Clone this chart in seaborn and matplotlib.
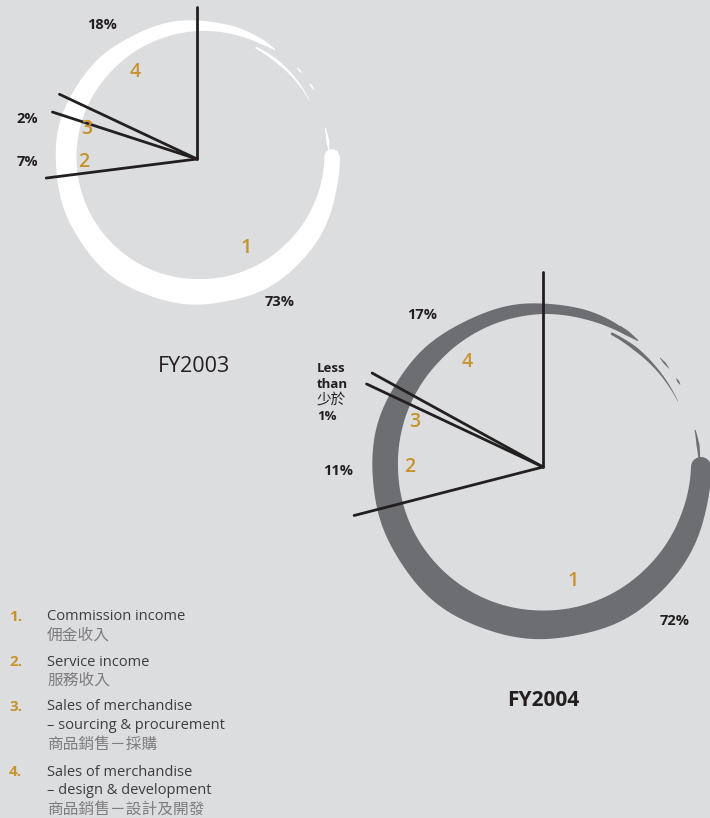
import numpy as np
import pandas as pd
import seaborn as sns
import matplotlib.pyplot as plt
from matplotlib.patches import Polygon, Circle

# Revenue mix by segment (percent), segments 1-4
segments = ['1', '2', '3', '4']
share_fy2003 = [73, 7, 2, 18]
share_fy2004 = [72, 11, 1, 17]
pct_fy2003 = ['73%', '7%', '2%', '18%']
pct_fy2004 = ['72%', '11%', 'Less\nthan\n少於\n1%', '17%']
years = ['FY2003', 'FY2004']

legend_en = ['Commission income', 'Service income',
             'Sales of merchandise\n– sourcing & procurement',
             'Sales of merchandise\n– design & development']
legend_zh = ['佣金收入', '服務收入', '商品銷售－採購', '商品銷售－設計及開發']

BG = '#dcdddf'
GOLD = '#c8922c'
INK = '#231f20'
LAT = ['Open Sans', 'Noto Sans CJK TC', 'DejaVu Sans']

sns.set_theme(style='white', rc={'axes.facecolor': BG, 'figure.facecolor': BG})
plt.rcParams['font.family'] = LAT

fig = plt.figure(figsize=(7.1, 8.18), dpi=100)
ax = fig.add_axes([0, 0, 1, 1])


def brush(ax, cx, cy, r, prof_a, prof_w, color, cap=True):
    # clockwise brush stroke with varying width
    a = np.linspace(prof_a[0], prof_a[-1], 600)
    w = np.interp(-a, -np.array(prof_a), prof_w)
    rr = np.radians(a)
    wob = 0.6 * np.sin(rr * 5) + 0.4 * np.sin(rr * 11 + 1)
    ro = r + w / 2 + wob * (w > 6)
    ri = r - w / 2
    outer = np.c_[cx + ro * np.cos(rr), cy - ro * np.sin(rr)]
    inner = np.c_[cx + ri * np.cos(rr), cy - ri * np.sin(rr)][::-1]
    ax.add_patch(Polygon(np.r_[outer, inner], closed=True, fc=color, ec='none', zorder=1))
    if cap:
        a0 = rr[0]
        ax.add_patch(Circle((cx + r * np.cos(a0), cy - r * np.sin(a0)), w[0] / 2,
                            fc=color, ec='none', zorder=1))


def spokes(ax, cx, cy, length, shares):
    # boundaries counterclockwise from 12 o'clock: seg 4, 3, 2 then seg 1
    s1, s2, s3, s4 = shares
    cum = np.cumsum([0, s4, s3, s2])
    ang = np.radians(90 + 3.6 * cum)
    rows = []
    for i, t in enumerate(ang):
        rows.append((i, cx, cy))
        rows.append((i, cx + length * np.cos(t), cy - length * np.sin(t)))
    df = pd.DataFrame(rows, columns=['spoke', 'x', 'y'])
    sns.lineplot(data=df, x='x', y='y', units='spoke', estimator=None, sort=False,
                 color=INK, lw=2.0, ax=ax, zorder=3)


# ---- FY2003 (white ring)
c3 = (199, 159)
r3 = 133
brush(ax, *c3, r3,
      [1, -20, -45, -90, -135, -180, -225, -250, -270, -288, -298, -305],
      [15, 19, 23, 26, 24, 21, 18, 14, 10, 7, 5, 1], 'white')
brush(ax, *c3, r3 - 8, [63, 52, 40, 28], [2, 3, 2, 0.4], 'white', cap=False)
brush(ax, *c3, r3 + 1, [43, 41.5, 40], [0.5, 2, 0.5], 'white', cap=False)
brush(ax, *c3, r3 + 1, [34.5, 33, 31], [0.5, 2, 0.5], 'white', cap=False)
brush(ax, *c3, r3 - 3, [14, 8, 3], [0.8, 3, 0.8], 'white', cap=False)
spokes(ax, 197, 159, 152, share_fy2003)

# ---- FY2004 (grey ring)
c4 = (543, 467)
r4 = 158
brush(ax, *c4, r4,
      [0, -20, -45, -90, -135, -180, -225, -250, -270, -285, -295, -302, -307],
      [20, 24, 27, 29, 28, 26, 20, 14, 10, 9, 7, 5, 1], '#6d6e71')
brush(ax, *c4, r4 - 8, [63, 52, 40, 26], [2.5, 4, 2, 0.4], '#6d6e71', cap=False)
brush(ax, *c4, r4 + 2, [43, 40.5, 38], [0.5, 2, 0.5], '#6d6e71', cap=False)
brush(ax, *c4, r4 + 2, [33.6, 32.3, 31], [0.5, 2, 0.5], '#6d6e71', cap=False)
brush(ax, *c4, r4 - 1.5, [13.7, 8, 0.7], [1, 3, 1], '#6d6e71', cap=False)
spokes(ax, *c4, 195, share_fy2004)

# ---- segment numbers (gold)
num_pos = {'FY2003': [(246, 248), (84, 162), (87, 129), (135, 72)],
           'FY2004': [(573, 581), (410, 467), (415, 422), (467, 362)]}
for yr in years:
    for s, (x, y) in zip(segments, num_pos[yr]):
        ax.text(x, y, s, color=GOLD, fontsize=14, fontweight='semibold',
                ha='center', va='center', zorder=4)

# ---- percentages
pos3 = [(280, 302), (27, 162), (27, 119), (102, 25)]
for t, (x, y) in zip(pct_fy2003, pos3):
    ax.text(x, y, t, color=INK, fontsize=10.5, fontweight='bold', ha='center', va='center')
pos4 = [(675, 621), (338, 471), None, (422, 315)]
for t, p in zip(pct_fy2004, pos4):
    if p is not None:
        ax.text(p[0], p[1], t, color=INK, fontsize=10.5, fontweight='bold',
                ha='center', va='center')
less = pct_fy2004[2].split('\n')
for i, t in enumerate(less):
    ax.text(317, 368 + 16 * i, t, color=INK, fontsize=10.5 if i == 2 else 9.5,
            fontweight='normal' if i == 2 else 'bold', ha='left', va='center',
            family=['Noto Sans CJK TC'] if i == 2 else LAT)

# ---- titles
ax.text(194, 366, years[0], color=INK, fontsize=15.5, ha='center', va='center')
ax.text(543, 700, years[1], color=INK, fontsize=15, fontweight='bold', ha='center', va='center')

# ---- legend
leg_y = [617, 662, 707, 772]
for i, (en, zh) in enumerate(zip(legend_en, legend_zh)):
    y = leg_y[i]
    ax.text(9, y, f'{segments[i]}.', color=GOLD, fontsize=11, fontweight='bold',
            ha='left', va='center')
    lines = en.split('\n')
    for j, ln in enumerate(lines):
        ax.text(47, y + 18.5 * j, ln, color='#3d3d3f', fontsize=10.5, ha='left', va='center')
    ax.text(47, y + 18.5 * len(lines), zh, color='#7d7d80', fontsize=11.3, ha='left',
            va='center', family=['Noto Sans CJK TC'])

ax.set_xlim(0, 710)
ax.set_ylim(818, 0)
ax.set_axis_off()

fig.savefig('out.png', dpi=100, facecolor=BG)
